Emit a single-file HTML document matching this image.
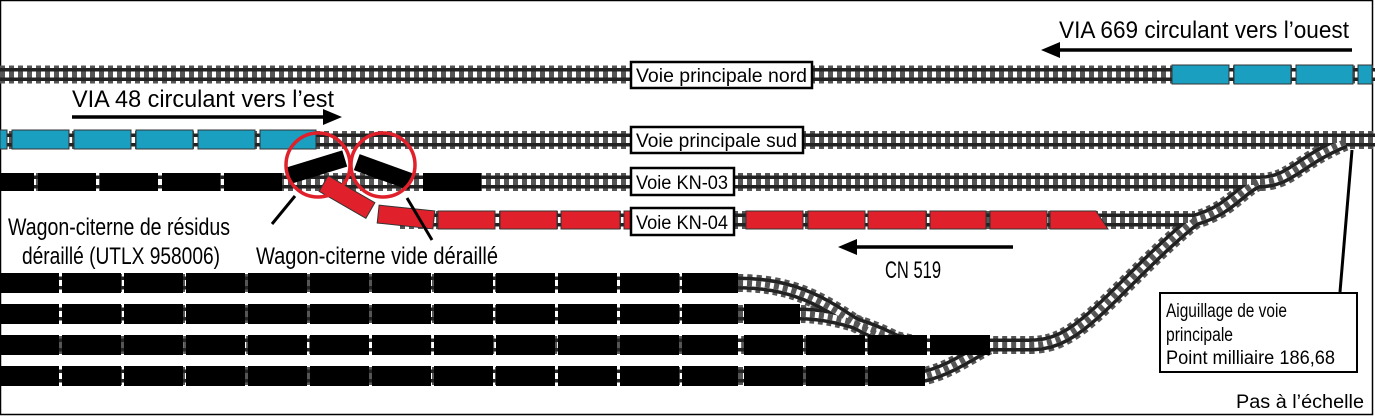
<!DOCTYPE html>
<html><head><meta charset="utf-8"><style>
html,body{margin:0;padding:0;background:#fff;}
svg{display:block;}
text{font-family:"Liberation Sans",sans-serif;fill:#000;}
</style></head><body>
<svg width="1375" height="416" viewBox="0 0 1375 416" xmlns="http://www.w3.org/2000/svg">
<rect x="0.5" y="0.5" width="1372" height="414" fill="#fff" stroke="#000" stroke-width="1.5"/>

<g fill="none" id="tracks">
<g stroke="#555" stroke-width="18" stroke-dasharray="5 4">
<path id="t1" d="M0 74.5H1375"/>
<path id="t2" d="M0 140H1375"/>
<path id="t3" d="M0 182H1260 C1290 182 1300 160 1345 142"/>
<path id="t4" d="M400 220H1195 C1230 210 1240 190 1258 182"/>
<path id="t5" d="M1195 220 C1170 240 1150 260 1120 290 C1080 330 1060 345 1030 345 H0"/>
<path id="t6" d="M0 283H738 C790 283 820 300 850 320 C870 333 890 340 920 345"/>
<path id="t7" d="M0 314H800 C830 314 870 325 905 345"/>
<path id="t8" d="M0 376H925 C950 370 970 355 990 345"/>
</g>
<g stroke="#222" stroke-width="13">
<use href="#t1"/><use href="#t2"/><use href="#t3"/><use href="#t4"/><use href="#t5"/><use href="#t6"/><use href="#t7"/><use href="#t8"/>
</g>
<g stroke="#fff" stroke-width="6">
<use href="#t1"/><use href="#t2"/><use href="#t3"/><use href="#t4"/><use href="#t5"/><use href="#t6"/><use href="#t7"/><use href="#t8"/>
</g>
<g stroke="#555" stroke-width="6" stroke-dasharray="5 4">
<use href="#t1"/><use href="#t2"/><use href="#t3"/><use href="#t4"/><use href="#t5"/><use href="#t6"/><use href="#t7"/><use href="#t8"/>
</g>
</g>

<g fill="#1a9fc0" stroke="#333" stroke-width="1">
<rect x="1172" y="65" width="57" height="19"/><rect x="1234" y="65" width="57" height="19"/><rect x="1296" y="65" width="57" height="19"/><rect x="1358" y="65" width="14" height="19"/>
<rect x="0" y="130" width="7" height="19"/><rect x="12" y="130" width="57" height="19"/><rect x="74" y="130" width="57" height="19"/><rect x="136" y="130" width="57" height="19"/><rect x="198" y="130" width="57" height="19"/><rect x="260" y="130" width="56" height="19"/>
</g>

<g fill="#000">
<rect x="0" y="173" width="34" height="18"/><rect x="38" y="173" width="58" height="18"/><rect x="100" y="173" width="58" height="18"/><rect x="162" y="173" width="58" height="18"/><rect x="224" y="173" width="58" height="18"/><rect x="423" y="173" width="58" height="18"/>
<rect x="-29" y="-8.5" width="58" height="17" transform="translate(317 167) rotate(-17)"/>
<rect x="-29" y="-8.5" width="58" height="17" transform="translate(384 172) rotate(20)"/>
</g>

<g fill="#e0202a" stroke="#333" stroke-width="1">
<rect x="-27" y="-9" width="54" height="18" transform="translate(347 197) rotate(30)"/>
<rect x="-28" y="-9" width="56" height="18" transform="translate(406 217) rotate(6)"/>
<rect x="438" y="211" width="57" height="18"/><rect x="500" y="211" width="57" height="18"/><rect x="561" y="211" width="59" height="18"/><rect x="624" y="211" width="58" height="18"/>
<rect x="746" y="211" width="57" height="18"/><rect x="808" y="211" width="57" height="18"/><rect x="868" y="211" width="58" height="18"/><rect x="930" y="211" width="56" height="18"/><rect x="990" y="211" width="57" height="18"/>
<path d="M1050 211H1096L1108 229H1050Z"/>
</g>

<g fill="#000">
<g id="r1">
<rect x="0" y="273" width="59" height="20"/><rect x="62" y="273" width="59" height="20"/><rect x="124" y="273" width="59" height="20"/><rect x="186" y="273" width="59" height="20"/><rect x="248" y="273" width="59" height="20"/><rect x="310" y="273" width="59" height="20"/><rect x="372" y="273" width="59" height="20"/><rect x="434" y="273" width="59" height="20"/><rect x="496" y="273" width="59" height="20"/><rect x="558" y="273" width="59" height="20"/><rect x="620" y="273" width="59" height="20"/><rect x="682" y="273" width="56" height="20"/>
</g>
<g transform="translate(0 31)"><use href="#r1"/><rect x="744" y="273" width="56" height="20"/></g>
<g transform="translate(0 62)"><use href="#r1"/><rect x="744" y="273" width="59" height="20"/><rect x="806" y="273" width="59" height="20"/><rect x="868" y="273" width="59" height="20"/><rect x="930" y="273" width="60" height="20"/></g>
<g transform="translate(0 93)"><use href="#r1"/><rect x="744" y="273" width="59" height="20"/><rect x="806" y="273" width="59" height="20"/><rect x="868" y="273" width="57" height="20"/></g>
</g>

<circle cx="318" cy="165" r="32" fill="none" stroke="#e0202a" stroke-width="3.5"/>
<circle cx="383" cy="165" r="32" fill="none" stroke="#e0202a" stroke-width="3.5"/>

<g stroke="#000" stroke-width="3">
<line x1="295" y1="196" x2="272" y2="224"/>
<line x1="407" y1="198" x2="432" y2="240"/>
<line x1="1352" y1="150" x2="1340" y2="292"/>
</g>

<g stroke="#000" stroke-width="3.5">
<line x1="1055" y1="50" x2="1352" y2="50"/>
<line x1="72" y1="117" x2="328" y2="117"/>
<line x1="852" y1="247" x2="1013" y2="247"/>
</g>
<path d="M1041 50L1060 42V58Z"/>
<path d="M342 117L323 109V125Z"/>
<path d="M838 247L857 239V255Z"/>

<g fill="#fff" stroke="#000" stroke-width="2.5">
<rect x="631" y="62" width="181" height="26"/>
<rect x="631" y="127" width="172" height="26"/>
<rect x="631" y="168" width="103" height="27"/>
<rect x="631" y="208" width="103" height="27"/>
<rect x="1160" y="293" width="197" height="79" stroke-width="2"/>
</g>
<g font-size="19">
<text x="636" y="82" textLength="171" lengthAdjust="spacingAndGlyphs">Voie principale nord</text>
<text x="636" y="147" textLength="161" lengthAdjust="spacingAndGlyphs">Voie principale sud</text>
<text x="636" y="189" textLength="92" lengthAdjust="spacingAndGlyphs">Voie KN-03</text>
<text x="636" y="229" textLength="92" lengthAdjust="spacingAndGlyphs">Voie KN-04</text>
<text x="1166" y="317" textLength="121" lengthAdjust="spacingAndGlyphs">Aiguillage de voie</text>
<text x="1166" y="341" textLength="67" lengthAdjust="spacingAndGlyphs">principale</text>
<text x="1166" y="364" textLength="169" lengthAdjust="spacingAndGlyphs">Point milliaire 186,68</text>
<text x="1236" y="408" textLength="128" lengthAdjust="spacingAndGlyphs">Pas à l’échelle</text>
</g>
<g font-size="24">
<text x="1059" y="38" textLength="290" lengthAdjust="spacingAndGlyphs">VIA 669 circulant vers l’ouest</text>
<text x="72" y="107" textLength="262" lengthAdjust="spacingAndGlyphs">VIA 48 circulant vers l’est</text>
<text x="8" y="235" textLength="222" lengthAdjust="spacingAndGlyphs">Wagon-citerne de résidus</text>
<text x="22" y="264" textLength="198" lengthAdjust="spacingAndGlyphs">déraillé (UTLX 958006)</text>
<text x="256" y="264" textLength="242" lengthAdjust="spacingAndGlyphs">Wagon-citerne vide déraillé</text>
<text x="885" y="278" textLength="56" lengthAdjust="spacingAndGlyphs">CN 519</text>
</g>
</svg>
</body></html>
